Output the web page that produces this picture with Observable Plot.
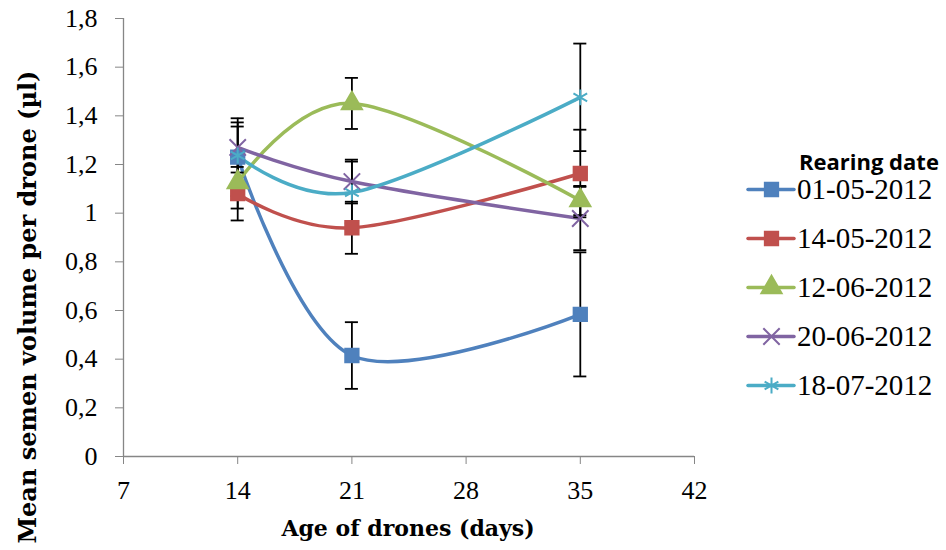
<!DOCTYPE html>
<html>
<head>
<meta charset="utf-8">
<script src="https://cdn.jsdelivr.net/npm/d3@7"></script>
<script src="https://cdn.jsdelivr.net/npm/@observablehq/plot@0.6"></script>
<style>
  body { margin: 0; background: white; }
  #wrap { position: relative; width: 946px; height: 550px; overflow: hidden; }
  #wrap > svg text { font-family: "Liberation Serif", serif; font-size: 26px; fill: black; }
  .ytitle { position: absolute; left: 27px; top: 307px; transform: translate(-50%, -50%) rotate(-90deg);
    white-space: nowrap; font: bold 24px "DejaVu Serif"; color: black; }
  .xtitle { position: absolute; left: 408px; top: 528px; transform: translate(-50%, -50%);
    white-space: nowrap; font: bold 22px "DejaVu Serif"; color: black; }
  #legend { position: absolute; left: 746px; top: 150px; }
  #legend .lt { font: bold 22px "Open Sans", "DejaVu Sans"; margin-left: 53px; line-height: 22px; height: 22px; }
  #legend .items { margin-top: -7.5px; }
  #legend .item { display: flex; align-items: center; height: 49px; }
  #legend .lab { font: 29px "Liberation Serif"; line-height: 26px; margin-left: 1px; }
</style>
</head>
<body>
<div id="wrap"></div>
<script>
const ages = [14, 21, 35];
const series = ["01-05-2012", "14-05-2012", "12-06-2012", "20-06-2012", "18-07-2012"];
const colors = ["#4F81BD", "#C0504D", "#9BBB59", "#8064A2", "#4BACC6"];
const symbols = ["square", "square", "triangle", "times", "asterisk"];
const means = [
  [1.23, 0.415, 0.584],
  [1.08, 0.94, 1.163],
  [1.126, 1.451, 1.052],
  [1.27, 1.13, 0.978],
  [1.237, 1.085, 1.476]
];
const errors = [
  [0.16, 0.137, 0.255],
  [0.11, 0.107, 0.18],
  [0.107, 0.105, 0.06],
  [0.103, 0.09, 0.13],
  [0.119, 0.127, 0.221]
];
const xTicks = [7, 14, 21, 28, 35, 42];
const yTicks = [0, 0.2, 0.4, 0.6, 0.8, 1, 1.2, 1.4, 1.6, 1.8];
const xTitle = "Age of drones (days)";
const yTitle = "Mean semen volume per drone (µl)";
const legendTitle = "Rearing date";

const rows = [];
series.forEach((s, i) => ages.forEach((a, j) => rows.push({series: s, age: a, mean: means[i][j], err: errors[i][j]})));

const fmt = d => String(+d.toFixed(1)).replace(".", ",");
const capHalf = 0.4;

const chart = Plot.plot({
  width: 946, height: 550,
  marginLeft: 123, marginRight: 252, marginTop: 18, marginBottom: 94,
  x: {domain: [7, 42]},
  y: {domain: [0, 1.8]},
  color: {domain: series, range: colors},
  symbol: {domain: series, range: symbols},
  style: {fontFamily: "Liberation Serif", fontSize: "26px", color: "black", background: "white", overflow: "visible"},
  marks: [
    Plot.ruleX([7], {stroke: "#868686", strokeWidth: 1.3}),
    Plot.ruleY([0], {stroke: "#868686", strokeWidth: 1.3}),
    Plot.axisY({ticks: yTicks, tickSize: 8, tickPadding: 18, tickFormat: fmt, stroke: "#868686", strokeOpacity: 1, label: null, fill: "black", fontFamily: "Liberation Serif", fontSize: 26}),
    Plot.axisX({ticks: xTicks, tickSize: 8, tickPadding: 16, tickFormat: d => String(d), stroke: "#868686", strokeOpacity: 1, label: null, fill: "black", fontFamily: "Liberation Serif", fontSize: 26}),
    Plot.line(rows, {x: "age", y: "mean", z: "series", stroke: "series", strokeWidth: 3.5, curve: "cardinal"}),
    Plot.ruleX(rows, {x: "age", y1: d => d.mean - d.err, y2: d => d.mean + d.err, stroke: "black", strokeWidth: 1.8}),
    Plot.ruleY(rows, {y: d => d.mean - d.err, x1: d => d.age - capHalf, x2: d => d.age + capHalf, stroke: "black", strokeWidth: 1.8}),
    Plot.ruleY(rows, {y: d => d.mean + d.err, x1: d => d.age - capHalf, x2: d => d.age + capHalf, stroke: "black", strokeWidth: 1.8}),
    Plot.dot(rows, {x: "age", y: "mean", symbol: "series", fill: "series", stroke: "series", r: 7.5, strokeWidth: 2})
  ]
});

const wrap = document.getElementById("wrap");
wrap.appendChild(chart);

const yt = document.createElement("div"); yt.className = "ytitle"; yt.textContent = yTitle; wrap.appendChild(yt);
const xt = document.createElement("div"); xt.className = "xtitle"; xt.textContent = xTitle; wrap.appendChild(xt);

const leg = document.createElement("div"); leg.id = "legend";
const lt = document.createElement("div"); lt.className = "lt"; lt.textContent = legendTitle; leg.appendChild(lt);
const items = document.createElement("div"); items.className = "items";
series.forEach((s, i) => {
  const item = document.createElement("div"); item.className = "item";
  const sw = Plot.plot({
    width: 50, height: 20, margin: 0,
    x: {domain: [0, 1], axis: null}, y: {domain: [0, 1], axis: null},
    symbol: {domain: series, range: symbols},
    marks: [
      Plot.ruleY([0.5], {x1: 0.04, x2: 0.96, stroke: colors[i], strokeWidth: 3.5, strokeLinecap: "round"}),
      Plot.dot([s], {x: () => 0.5, y: () => 0.5, symbol: d => d, fill: colors[i], stroke: colors[i], r: 7.5, strokeWidth: 2})
    ]
  });
  sw.style.overflow = "visible";
  item.appendChild(sw);
  const lab = document.createElement("span"); lab.className = "lab"; lab.textContent = s; item.appendChild(lab);
  items.appendChild(item);
});
leg.appendChild(items);
wrap.appendChild(leg);
</script>
</body>
</html>
